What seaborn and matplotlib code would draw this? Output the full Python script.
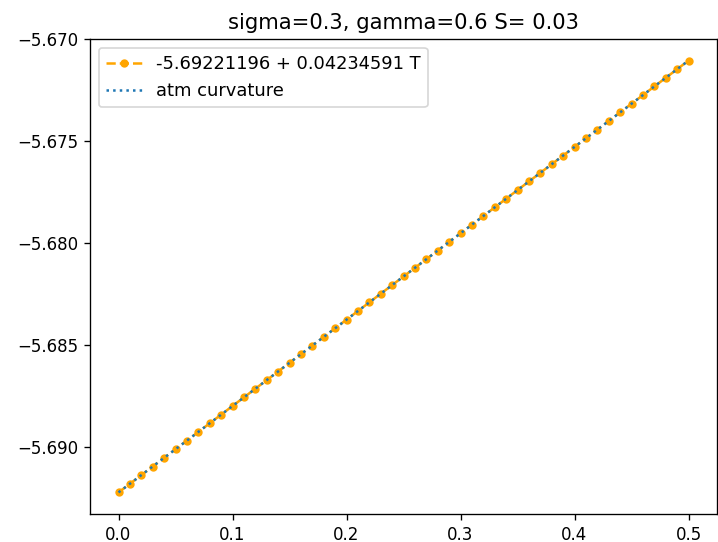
import matplotlib
matplotlib.use("Agg")
import matplotlib.pyplot as plt
import seaborn as sns
import numpy as np

T = [0.00, 0.01, 0.02, 0.03, 0.04, 0.05, 0.06, 0.07, 0.08, 0.09,
     0.10, 0.11, 0.12, 0.13, 0.14, 0.15, 0.16, 0.17, 0.18, 0.19,
     0.20, 0.21, 0.22, 0.23, 0.24, 0.25, 0.26, 0.27, 0.28, 0.29,
     0.30, 0.31, 0.32, 0.33, 0.34, 0.35, 0.36, 0.37, 0.38, 0.39,
     0.40, 0.41, 0.42, 0.43, 0.44, 0.45, 0.46, 0.47, 0.48, 0.49, 0.50]

curvature = [-5.692212, -5.691789, -5.691365, -5.690942, -5.690518, -5.690095,
             -5.689671, -5.689248, -5.688824, -5.688401, -5.687977, -5.687554,
             -5.687130, -5.686707, -5.686284, -5.685860, -5.685437, -5.685013,
             -5.684590, -5.684166, -5.683743, -5.683319, -5.682896, -5.682472,
             -5.682049, -5.681625, -5.681202, -5.680779, -5.680355, -5.679932,
             -5.679508, -5.679085, -5.678661, -5.678238, -5.677814, -5.677391,
             -5.676967, -5.676544, -5.676121, -5.675697, -5.675274, -5.674850,
             -5.674427, -5.674003, -5.673580, -5.673156, -5.672733, -5.672309,
             -5.671886, -5.671462, -5.671039]

fit_label = "-5.69221196 + 0.04234591 T"
data_label = "atm curvature"
title = "sigma=0.3, gamma=0.6 S= 0.03"

DPI = 120
fig, ax = plt.subplots(figsize=(718 / DPI, 542 / DPI), dpi=DPI)
fig.subplots_adjust(left=90 / 718, right=717 / 718, top=1 - 39 / 542, bottom=1 - 514 / 542)

sns.lineplot(x=T, y=curvature, ax=ax, color="orange", linestyle="--",
             marker=".", markersize=8, markeredgecolor="orange",
             markeredgewidth=1.0, label=fit_label)
sns.lineplot(x=T, y=curvature, ax=ax, color="#1f77b4", linestyle=":",
             label=data_label)

ax.set_title(title, fontsize=12.7)
ax.legend(loc="upper left", fontsize=10.7)
fig.savefig("out.png", dpi=DPI)
